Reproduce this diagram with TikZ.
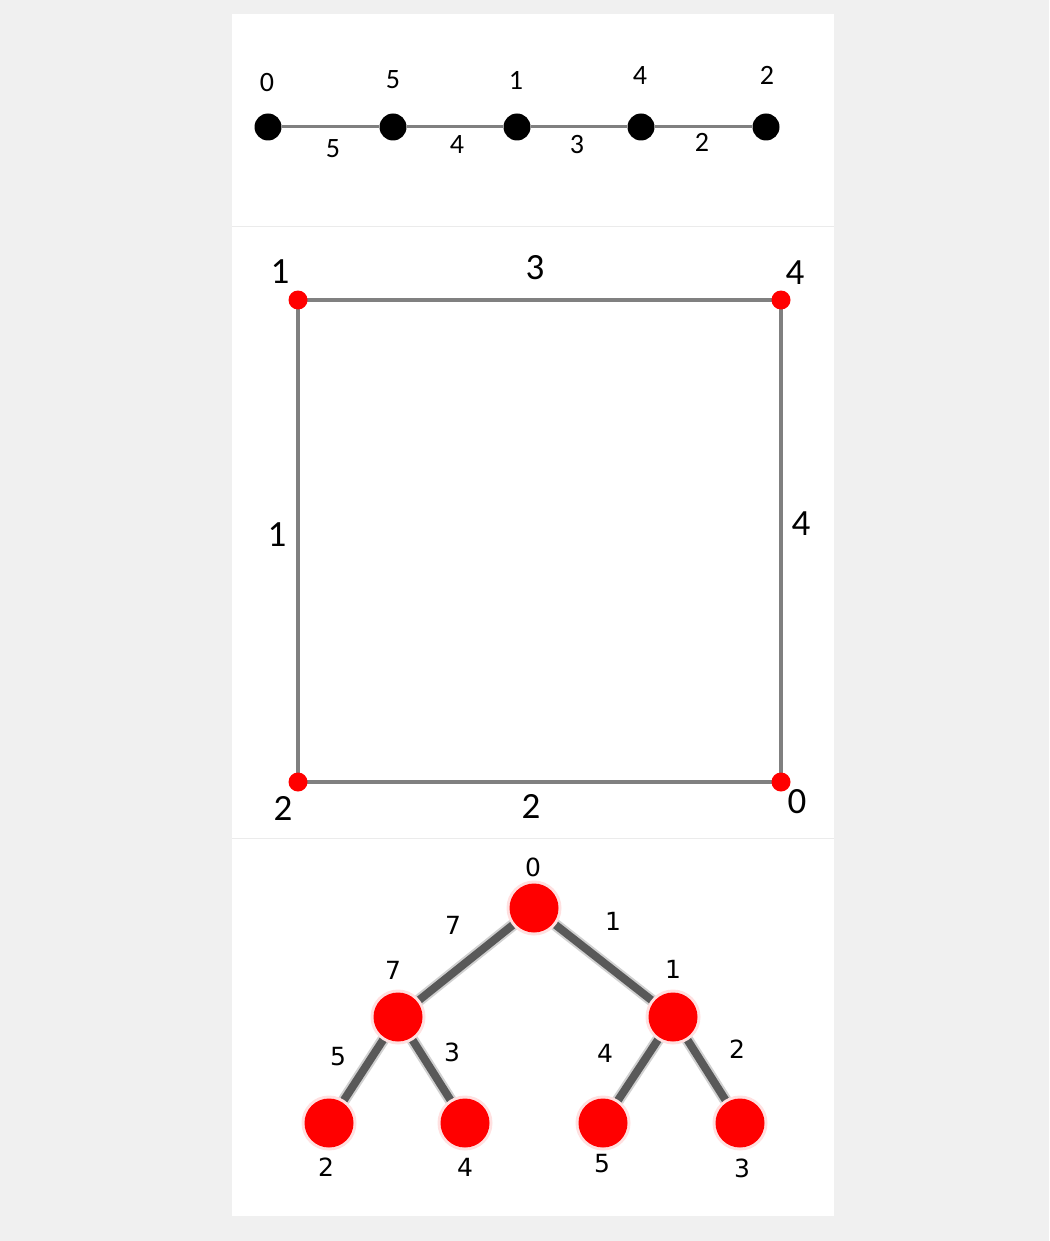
\documentclass[tikz,border=0pt]{standalone}
\usepackage{fontspec}
\setmainfont{Carlito}
\newfontfamily\pixfont{DejaVu Sans}
\begin{document}
\begin{tikzpicture}[x=1pt,y=-1pt,
  blackdot/.style={circle,fill=black,inner sep=0pt,minimum size=27pt},
  reddot/.style={circle,fill=red,inner sep=0pt,minimum size=19pt},
  bigred/.style={circle,fill=red,inner sep=0pt,minimum size=49pt},
  haloring/.style={circle,fill=red!12,inner sep=0pt,minimum size=55pt},
  lineedge/.style={draw=black!50,line width=3pt},
  sqedge/.style={draw=black!50,line width=3.5pt},
  treeedge/.style={draw=black!65,line width=8pt},
  treehalo/.style={draw=black!18,line width=12pt},
  lab1/.style={font=\fontsize{28}{28}\selectfont,text=black,inner sep=0pt},
  lab2/.style={font=\fontsize{37}{37}\selectfont,text=black,inner sep=0pt},
  lab3/.style={font=\pixfont\fontsize{25}{25}\selectfont,text=black,inner sep=0pt},
  sepline/.style={draw=black!8,line width=1pt}]
\useasboundingbox (0,0) rectangle (1049,1241);
\fill[black!6] (0,0) rectangle (1049,1241);
\fill[white] (232,14) rectangle (834,1216);
\draw[sepline] (232,227) -- (834,227);
\draw[sepline] (232,838) -- (834,838);

% ---------- panel 1 ----------
\node[blackdot] (p0) at (268,127) {};
\node[blackdot] (p5) at (393,127) {};
\node[blackdot] (p1) at (517,127) {};
\node[blackdot] (p4) at (641,127) {};
\node[blackdot] (p2) at (766,127) {};
\draw[lineedge] (p0) -- (p5);
\draw[lineedge] (p5) -- (p1);
\draw[lineedge] (p1) -- (p4);
\draw[lineedge] (p4) -- (p2);
\node[lab1] (t0) at (267,83) {0};
\node[lab1] (t5) at (393,80) {5};
\node[lab1] (t1) at (516,80) {1};
\node[lab1] (t4) at (640,76) {4};
\node[lab1] (t2) at (767,75) {2};
\node[lab1] (e5) at (333,149) {5};
\node[lab1] (e4) at (457,145) {4};
\node[lab1] (e3) at (577,145) {3};
\node[lab1] (e2) at (702,142) {2};

% ---------- panel 2 ----------
\coordinate (c1) at (298,300);
\coordinate (c4) at (781,300);
\coordinate (c2) at (298,782);
\coordinate (c0) at (781,782);
\draw[sqedge] (c1) -- (c4);
\draw[sqedge] (c4) -- (c0);
\draw[sqedge] (c0) -- (c2);
\draw[sqedge] (c2) -- (c1);
\node[reddot] (q1) at (c1) {};
\node[reddot] (q4) at (c4) {};
\node[reddot] (q2) at (c2) {};
\node[reddot] (q0) at (c0) {};
\node[lab2] (s1) at (280,272) {1};
\node[lab2] (s4) at (795,273) {4};
\node[lab2] (s2) at (283,808) {2};
\node[lab2] (s0) at (797,802) {0};
\node[lab2] (w3) at (535,268) {3};
\node[lab2] (w1) at (277,535) {1};
\node[lab2] (w4) at (801,524) {4};
\node[lab2] (w2) at (531,806) {2};

% ---------- panel 3 ----------
\coordinate (r0) at (534,908);
\coordinate (r7) at (398,1017);
\coordinate (r1) at (673,1017);
\coordinate (rl2) at (329,1123);
\coordinate (rl4) at (465,1123);
\coordinate (rl5) at (603,1123);
\coordinate (rl3) at (740,1123);
\foreach \a/\b in {r0/r7,r0/r1,r7/rl2,r7/rl4,r1/rl5,r1/rl3}{
  \draw[treehalo] (\a) -- (\b);
  \draw[treeedge] (\a) -- (\b);
}
\foreach \n in {r0,r7,r1,rl2,rl4,rl5,rl3}{
  \node[haloring] at (\n) {};
  \node[bigred] (n\n) at (\n) {};
}
\node[lab3] (u0) at (533,867) {0};
\node[lab3] (u7a) at (453,925) {7};
\node[lab3] (u1a) at (613,921) {1};
\node[lab3] (u7) at (393,970) {7};
\node[lab3] (u1) at (673,969) {1};
\node[lab3] (u5) at (338,1057) {5};
\node[lab3] (u3) at (452,1052) {3};
\node[lab3] (u4) at (605,1053) {4};
\node[lab3] (u2) at (737,1049) {2};
\node[lab3] (v2) at (326,1167) {2};
\node[lab3] (v4) at (465,1167) {4};
\node[lab3] (v5) at (602,1164) {5};
\node[lab3] (v3) at (742,1168) {3};
\end{tikzpicture}
\end{document}
